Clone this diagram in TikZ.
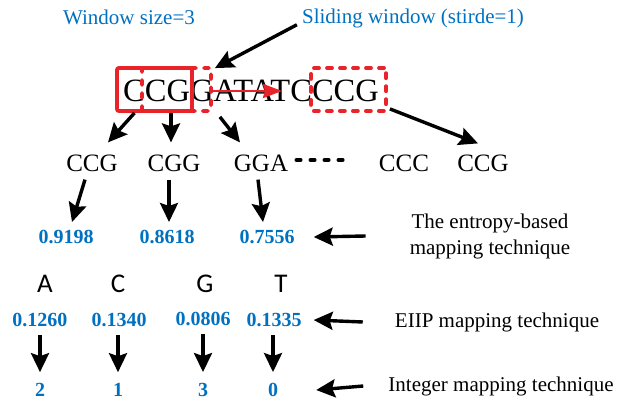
\documentclass[tikz,border=0pt]{standalone}
\usepackage{fontspec}
\setmainfont{Liberation Serif}
\newfontfamily\acgtfont{Carlito}
\usepackage{tikz}
\usetikzlibrary{arrows.meta}
\definecolor{winblue}{HTML}{0070C0}
\definecolor{winred}{HTML}{E8242A}
\tikzset{>={Stealth[length=19pt,width=18pt,inset=3pt]}}

\begin{document}
\begin{tikzpicture}[x=1pt, y=-1pt,
  seq/.style={font=\fontsize{32.5}{32.5}\selectfont, inner sep=0pt},
  kmer/.style={font=\fontsize{25}{25}\selectfont, inner sep=0pt},
  val/.style={font=\fontsize{20}{20}\selectfont\bfseries, text=winblue, inner sep=0pt},
  note/.style={font=\fontsize{21}{26}\selectfont, align=center, inner sep=0pt},
  bluenote/.style={note, text=winblue},
  nuc/.style={font=\acgtfont\fontsize{27}{27}\selectfont, inner sep=0pt},
  arr/.style={->, line width=3.4pt},
  redarr/.style={-{Stealth[length=19pt,width=14pt,inset=2pt]}, draw=winred, line width=2.8pt},
  winbox/.style={draw=winred, line width=3.8pt, minimum height=43pt, inner sep=0pt, rounded corners=2pt},
  windash/.style={winbox, dash pattern=on 5pt off 8pt, line cap=round}]
\useasboundingbox (0,0) rectangle (619,404);

% headings
\node[bluenote] (winsize) at (129,17) {Window size=3};
\node[bluenote] (slide) at (413,18) {Sliding window (stirde=1)};

% sequence and windows
\node[seq] (dna) at (251,91) {CCGGATATCCCG};
\node[winbox, minimum width=75pt] (w1) at (154.5,89.5) {};
\node[windash, minimum width=69pt] (w2) at (176.5,89.5) {};
\node[windash, minimum width=75pt] (w3) at (348.5,89.5) {};
\draw[redarr] ([xshift=-41pt]dna.center) -- ([xshift=31pt]dna.center);
\draw[arr] ([xshift=-5pt,yshift=3pt]slide.south west) -- ([xshift=2pt,yshift=-2pt]w2.north east);

% 3-mers
\node[kmer] (s1) at (92,163) {CCG};
\node[kmer] (s2) at (174,163) {CGG};
\node[kmer] (s3) at (261,163) {GGA};
\node[kmer] (s4) at (404,163) {CCC};
\node[kmer] (s5) at (483,163) {CCG};
\draw[line width=3.5pt, dash pattern=on 4.5pt off 9.5pt, line cap=round]
  ([xshift=8pt,yshift=3pt]s3.east) -- ([xshift=-30pt,yshift=3pt]s4.west);

\path[arr]
([xshift=-20pt]w1.south) edge ([xshift=16pt,yshift=12pt]s1.north)
([xshift=-5.5pt]w2.south) edge ([xshift=-3pt,yshift=12pt]s2.north)
([xshift=7pt,yshift=-4pt]w2.south east) edge ([xshift=-21pt,yshift=12pt]s3.north)
([xshift=2pt,yshift=4pt]w3.south east) edge ([xshift=-5pt,yshift=11pt]s5.north);

% entropy values
\node[val] (v1) at (66,237) {0.9198};
\node[val] (v2) at (167,237) {0.8618};
\node[val] (v3) at (267,237) {0.7556};
\node[note] (ent) at (490,236) {The entropy-based\\mapping technique};

\path[arr]
([xshift=-7pt,yshift=-8pt]s1.south) edge ([xshift=6pt,yshift=8pt]v1.north)
([xshift=-5pt,yshift=-8pt]s2.south) edge ([xshift=2pt,yshift=8pt]v2.north)
([xshift=-3pt,yshift=-8pt]s3.south) edge ([xshift=-4pt,yshift=8pt]v3.north)
([xshift=-44pt]ent.west) edge ([xshift=19pt]v3.east);

% nucleotides
\node[nuc] (nA) at (45,284) {A};
\node[nuc] (nC) at (118,284) {C};
\node[nuc] (nG) at (205,284) {G};
\node[nuc] (nT) at (281,284) {T};

\node[val] (e1) at (40,320) {0.1260};
\node[val] (e2) at (119,320) {0.1340};
\node[val] (e3) at (203,319) {0.0806};
\node[val] (e4) at (274,320) {0.1335};
\node[note] (eiip) at (497,322) {EIIP mapping technique};

\node[val] (i1) at (40,390) {2};
\node[val] (i2) at (118,390) {1};
\node[val] (i3) at (203,390) {3};
\node[val] (i4) at (273,390) {0};
\node[note] (intm) at (501,386) {Integer mapping technique};

\path[arr]
([yshift=-8pt]e1.south) edge ([yshift=11pt]i1.north)
([xshift=-1pt,yshift=-8pt]e2.south) edge ([yshift=11pt]i2.north)
([yshift=-8pt]e3.south) edge ([yshift=11pt]i3.north)
([xshift=-1pt,yshift=-8pt]e4.south) edge ([yshift=11pt]i4.north)
([xshift=-32pt]eiip.west) edge ([xshift=12pt]e4.east)
([xshift=-25pt]intm.west) edge ([xshift=38pt]i4.east);
\end{tikzpicture}
\end{document}
